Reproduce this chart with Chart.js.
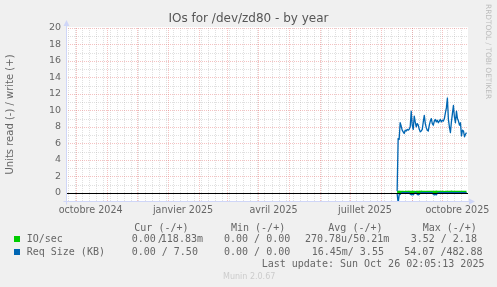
<!DOCTYPE html>
<html>
<head>
<meta charset="utf-8">
<script src="https://cdn.jsdelivr.net/npm/chart.js@4.4.1/dist/chart.umd.min.js"></script>
<style>
  body { margin: 0; background: #f0f0f0; }
  #wrap { position: relative; width: 497px; height: 287px; overflow: hidden; }
  #chart { position: absolute; left: 0; top: 0; }
  .t { position: absolute; white-space: pre; font: 10px "DejaVu Sans Mono", monospace; color: #666; line-height: 12px; }
  .ov { margin-left: -4px; margin-right: -3px; }
  .sq { position: absolute; width: 6px; height: 6px; }
  #rrd { position: absolute; left: 484px; top: 4px; writing-mode: vertical-rl; font: 7.4px "DejaVu Sans", sans-serif; color: #bbb; white-space: pre; }
  #munin { position: absolute; left: 223px; top: 271.5px; font: 8px "DejaVu Sans", sans-serif; color: #ccc; line-height: 10px; }
</style>
</head>
<body>
<div id="wrap">
  <canvas id="chart" width="497" height="287"></canvas>
  <div id="rrd">RRDTOOL / TOBI OETIKER</div>
  <div id="legend"></div>
  <div id="munin">Munin 2.0.67</div>
</div>
<script>
// first day with data, one value per day after it
const firstDay = '2025-08-17';
const graphEnd = '2025-10-26';

const reqWrite = [
  0.2, 6.6, 6.5, 8.5, 8.1, 7.6, 7.4, 7.2, 7.6, 7.5,
  7.7, 7.6, 7.7, 8.0, 9.9, 8.2, 7.7, 9.3, 8.6, 8.0,
  8.4, 8.2, 7.7, 7.4, 7.5, 7.7, 8.6, 9.4, 8.4, 7.9,
  7.6, 7.5, 8.2, 8.7, 9.0, 8.4, 8.2, 8.7, 8.9, 8.6,
  8.8, 8.5, 8.7, 8.9, 8.6, 8.8, 8.7, 9.0, 9.7, 10.3,
  11.5, 8.9, 8.0, 7.3, 8.6, 9.6, 10.6, 9.2, 8.5, 9.9,
  9.0, 8.7, 8.2, 8.5, 6.9, 7.6, 7.5, 6.8, 7.1, 7.3
];
const reqRead = [
  0.1, 1.25, 0.25, 0.2, 0.05, 0, 0, 0, 0, 0,
  0, 0, 0, 0.15, 0.25, 0.2, 0.25, 0.1, 0, 0,
  0.2, 0.25, 0.2, 0.05, 0, 0, 0, 0, 0, 0,
  0, 0, 0, 0, 0, 0, 0.2, 0.25, 0.2, 0.25,
  0.05, 0, 0, 0, 0, 0, 0, 0, 0, 0,
  0, 0, 0, 0, 0, 0, 0, 0, 0, 0,
  0, 0, 0, 0, 0, 0, 0, 0, 0, 0
];
const ioWrite = [
  0.10, 0.16, 0.15, 0.17, 0.14, 0.15, 0.16, 0.13, 0.15, 0.14,
  0.16, 0.15, 0.17, 0.14, 0.15, 0.16, 0.14, 0.15, 0.13, 0.16,
  0.15, 0.14, 0.16, 0.15, 0.17, 0.15, 0.14, 0.16, 0.15, 0.13,
  0.15, 0.16, 0.14, 0.15, 0.16, 0.15, 0.14, 0.16, 0.15, 0.17,
  0.15, 0.14, 0.16, 0.15, 0.14, 0.16, 0.15, 0.13, 0.15, 0.16,
  0.15, 0.14, 0.16, 0.15, 0.17, 0.15, 0.14, 0.16, 0.15, 0.14,
  0.16, 0.15, 0.15, 0.14, 0.16, 0.15, 0.14, 0.15, 0.16, 0.15
];
const ioRead = [
  0, 0.01, 0, 0, 0, 0, 0, 0, 0, 0,
  0, 0, 0, 0, 0.01, 0, 0, 0, 0, 0,
  0, 0, 0, 0, 0, 0, 0, 0, 0, 0,
  0, 0, 0, 0, 0, 0, 0.01, 0, 0, 0,
  0, 0, 0, 0, 0, 0, 0, 0, 0, 0,
  0, 0, 0, 0, 0, 0, 0, 0, 0, 0,
  0, 0, 0, 0, 0, 0, 0, 0, 0, 0
];

const yTicks = [0, 2, 4, 6, 8, 10, 12, 14, 16, 18, 20];
const labelMonths = ['2024-10-01', '2025-01-01', '2025-04-01', '2025-07-01', '2025-10-01'];
const monthLabels = ['octobre 2024', 'janvier 2025', 'avril 2025', 'juillet 2025', 'octobre 2025'];

const legendNames = ['IO/sec', 'Req Size (KB)'];
const legendColors = ['#00cc00', '#0066b3'];
const legendCur = ['0.00 /118.83m', '0.00 / 7.50'];
const legendMin = ['0.00 / 0.00', '0.00 / 0.00'];
const legendAvg = ['270.78u/50.21m', '16.45m/ 3.55'];
const legendMax = ['3.52 / 2.18', '54.07 /482.88'];
const lastUpdate = 'Last update: Sun Oct 26 02:05:13 2025';

const dayNum = s => Date.parse(s) / 864e5;
const xMax = dayNum(graphEnd) + 0.5;
const xMin = xMax - 400;
const day0 = dayNum(firstDay);
const pts = (vals, sign) => vals.map((v, i) => ({ x: day0 + i, y: sign * v }));

const font = 'DejaVu Sans';

// rrdtool look: white canvas, dotted grids, zero line, axis arrows
const rrdGrid = {
  id: 'rrdGrid',
  beforeDraw(chart) {
    const { ctx, chartArea: a } = chart;
    ctx.save();
    ctx.fillStyle = '#ffffff';
    ctx.fillRect(a.left, a.top - 1, a.right - a.left, a.bottom - a.top + 1);
    ctx.restore();
  },
  beforeDatasetsDraw(chart) {
    const { ctx, chartArea: a, scales: { x, y } } = chart;
    const vline = v => {
      const px = Math.round(x.getPixelForValue(v)) + 0.5;
      if (px <= a.left + 1 || px >= a.right) return;
      ctx.beginPath(); ctx.moveTo(px, a.top); ctx.lineTo(px, a.bottom); ctx.stroke();
    };
    const hline = v => {
      const py = Math.round(y.getPixelForValue(v)) + 0.5;
      ctx.beginPath(); ctx.moveTo(a.left, py); ctx.lineTo(a.right, py); ctx.stroke();
    };
    ctx.save();
    ctx.lineWidth = 1;
    ctx.setLineDash([1, 1]);
    // minor: weeks (mondays) and odd units
    ctx.strokeStyle = 'rgba(160,160,160,0.32)';
    for (let d = dayNum('2024-09-23'); d < x.max; d += 7) vline(d);
    for (let v = 1; v < 20; v += 2) hline(v);
    // major: month starts and even units
    ctx.strokeStyle = 'rgba(230,110,110,0.42)';
    for (let k = 0; k < 14; k++) vline(Date.UTC(2024, 9 + k, 1) / 864e5);
    yTicks.forEach(v => { if (v !== 0) hline(v); });
    ctx.restore();
  },
  afterDatasetsDraw(chart) {
    const { ctx, chartArea: a, scales: { y } } = chart;
    ctx.save();
    const py = Math.round(y.getPixelForValue(0)) + 0.5;
    ctx.strokeStyle = '#000000';
    ctx.lineWidth = 1;
    ctx.beginPath(); ctx.moveTo(a.left, py); ctx.lineTo(a.right, py); ctx.stroke();

    const ax = Math.round(a.left) + 0.5, ay = Math.round(a.bottom) + 0.5;
    ctx.strokeStyle = '#cfd6f8';
    ctx.fillStyle = '#cfd6f8';
    ctx.beginPath(); ctx.moveTo(ax, ay + 3); ctx.lineTo(ax, a.top - 3); ctx.stroke();
    ctx.beginPath(); ctx.moveTo(ax - 3, ay); ctx.lineTo(a.right + 1, ay); ctx.stroke();
    ctx.beginPath(); ctx.moveTo(ax - 3, a.top - 2); ctx.lineTo(ax + 3, a.top - 2); ctx.lineTo(ax, a.top - 8); ctx.closePath(); ctx.fill();
    ctx.beginPath(); ctx.moveTo(a.right + 1, ay - 3); ctx.lineTo(a.right + 1, ay + 3); ctx.lineTo(a.right + 7, ay); ctx.closePath(); ctx.fill();
    ctx.restore();
  }
};

const lineStyle = (color, width) => ({
  borderColor: color, backgroundColor: color, borderWidth: width,
  pointRadius: 0, tension: 0, fill: false, borderJoinStyle: 'round'
});

new Chart(document.getElementById('chart'), {
  type: 'line',
  data: {
    datasets: [
      { label: 'IO/sec read', data: pts(ioRead, -1), order: 2, ...lineStyle('#00cc00', 1.5) },
      { label: 'IO/sec write', data: pts(ioWrite, 1), order: 2, ...lineStyle('#00cc00', 1.5) },
      { label: 'Req Size read', data: pts(reqRead, -1), order: 1, ...lineStyle('#0066b3', 1.3) },
      { label: 'Req Size write', data: pts(reqWrite, 1), order: 1, ...lineStyle('#0066b3', 1.3) }
    ]
  },
  options: {
    responsive: false,
    devicePixelRatio: 1,
    animation: false,
    events: [],
    layout: { padding: 0 },
    plugins: {
      legend: { display: false },
      tooltip: { enabled: false },
      title: {
        display: true,
        text: 'IOs for /dev/zd80 - by year',
        color: '#555',
        font: { family: font, size: 12, weight: 'normal' },
        padding: { top: 12, bottom: 1.6 }
      }
    },
    scales: {
      x: {
        type: 'linear',
        min: xMin,
        max: xMax,
        grid: { display: false, drawTicks: false },
        border: { display: false },
        afterBuildTicks: s => { s.ticks = labelMonths.map(m => ({ value: dayNum(m) + 15 })); },
        afterFit: s => { s.height = 86; },
        ticks: {
          autoSkip: false,
          maxRotation: 0,
          padding: 4,
          color: '#666',
          font: { family: font, size: 9.6 },
          callback: v => monthLabels[labelMonths.findIndex(m => dayNum(m) + 15 === v)]
        }
      },
      y: {
        min: -1,
        max: 20,
        grid: { display: false, drawTicks: false },
        border: { display: false },
        afterBuildTicks: s => { s.ticks = yTicks.map(v => ({ value: v })); },
        afterFit: s => { s.width = 66; },
        ticks: { padding: 5, color: '#666', font: { family: font, size: 9.5 } },
        title: {
          display: true,
          text: 'Units read (-) / write (+)',
          color: '#666',
          font: { family: font, size: 10 },
          padding: { top: 4, bottom: 0 }
        }
      },
      yR: {
        position: 'right',
        grid: { display: false, drawTicks: false },
        border: { display: false },
        ticks: { display: false },
        afterFit: s => { s.width = 29; }
      }
    }
  },
  plugins: [rrdGrid]
});

// rrdtool style legend table under the graph
const legend = document.getElementById('legend');
const put = (html, left, cy) => {
  const d = document.createElement('div');
  d.className = 't';
  d.style.left = left + 'px';
  d.style.top = (cy - 6) + 'px';
  d.innerHTML = html;
  legend.appendChild(d);
};
put('Cur (-/+)', 134.3, 227.7);
put('Min (-/+)', 231, 227.7);
put('Avg (-/+)', 328.3, 227.7);
put('Max (-/+)', 422.7, 227.7);
const rowY = [239.3, 251.7];
const avgX = [305, 311.7];
const maxX = [410.7, 404.3];
legendNames.forEach((name, i) => {
  const sq = document.createElement('div');
  sq.className = 'sq';
  sq.style.left = '14px';
  sq.style.top = (rowY[i] - 3) + 'px';
  sq.style.background = legendColors[i];
  legend.appendChild(sq);
  put(name, 26.7, rowY[i]);
  put(legendCur[i].replace(' /1', ' <span class="ov">/</span>1'), 131.7, rowY[i]);
  put(legendMin[i], 224, rowY[i]);
  put(legendAvg[i], avgX[i], rowY[i]);
  put(legendMax[i], maxX[i], rowY[i]);
});
put(lastUpdate, 261.7, 263.7);
</script>
</body>
</html>
